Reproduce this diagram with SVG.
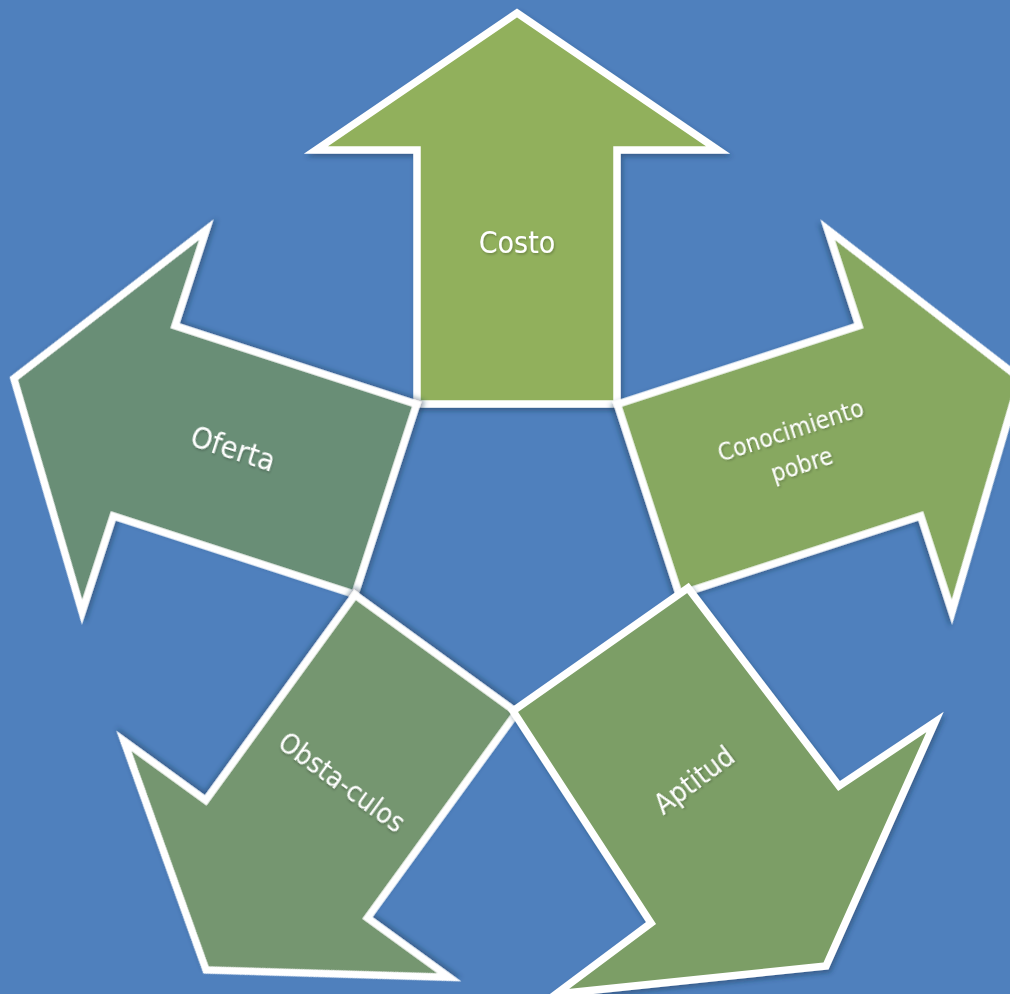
<svg xmlns="http://www.w3.org/2000/svg" width="1010" height="994" viewBox="0 0 1010 994">
  <defs>
    <filter id="sh" x="-20%" y="-20%" width="140%" height="140%">
      <feDropShadow dx="2" dy="3" stdDeviation="2.5" flood-color="#1f3350" flood-opacity="0.45"/>
    </filter>
    <filter id="tsh" x="-20%" y="-50%" width="140%" height="200%">
      <feDropShadow dx="1" dy="1.5" stdDeviation="1" flood-color="#000" flood-opacity="0.25"/>
    </filter>
    <path id="arrow" d="M -100,-138 L -100,-392 L -201,-392 L 0,-529 L 201,-392 L 100,-392 L 100,-138 Z"/>
  </defs>
  <style>
    .arr { stroke: #ffffff; stroke-width: 7.5; stroke-linejoin: miter; filter: url(#sh); }
    .lbl { fill: #ffffff; font-family: "DejaVu Sans Condensed", "DejaVu Sans", sans-serif; text-anchor: middle; filter: url(#tsh); }
  </style>
  <rect x="0" y="0" width="1010" height="994" fill="#4F80BD"/>

  <g id="connectors"></g>

  <g id="costo">
    <use href="#arrow" class="arr" fill="#91B05C" transform="translate(517,542)"/>
    <text class="lbl" x="517" y="253" font-size="30">Costo</text>
  </g>

  <g id="conocimiento">
    <use href="#arrow" class="arr" fill="#87A861" transform="translate(517,542) rotate(72)"/>
    <g transform="translate(796,447) rotate(-18)">
      <text class="lbl" x="0" y="-9" font-size="24.5">Conocimiento</text>
      <text class="lbl" x="0" y="27" font-size="24.5">pobre</text>
    </g>
  </g>

  <g id="oferta">
    <use href="#arrow" class="arr" fill="#698E76" transform="translate(517,542) rotate(-72)"/>
    <text class="lbl" font-size="30.5" transform="translate(233,449) rotate(18)" x="0" y="10">Oferta</text>
  </g>

  <g id="obstaculos">
    <use href="#arrow" class="arr" fill="#74966F" transform="translate(517,542) rotate(-144)"/>
    <text class="lbl" font-size="28" transform="translate(342,782) rotate(36)" x="0" y="10">Obsta-culos</text>
  </g>

  <g id="aptitud">
    <path class="arr" fill="#7C9E66" d="M 513,711 L 651,923 L 556,994 L 826,966 L 935,722 L 839,786 L 688,588 Z"/>
    <text class="lbl" font-size="28" transform="translate(694,780) rotate(-37)" x="0" y="10">Aptitud</text>
  </g>
</svg>
